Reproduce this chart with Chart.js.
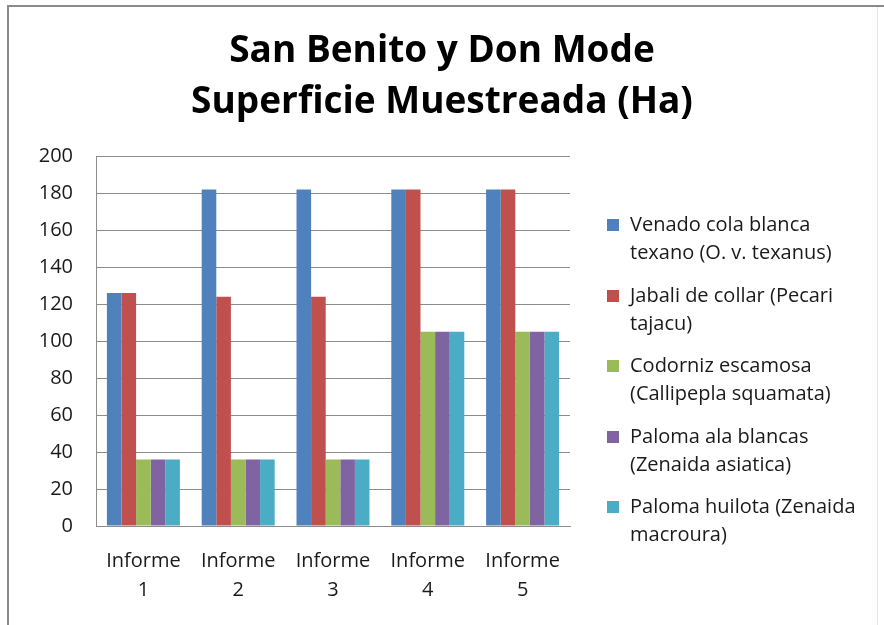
<!DOCTYPE html>
<html>
<head>
<meta charset="utf-8">
<script src="https://cdn.jsdelivr.net/npm/chart.js@4/dist/chart.umd.min.js"></script>
<style>
  html, body { margin: 0; padding: 0; background: #fff; }
  #wrap { position: relative; width: 884px; height: 625px; overflow: hidden; }
  #c { position: absolute; left: 0; top: 0; }
  #frameL { position: absolute; left: 7px; top: 5px; width: 2px; height: 625px; background: #8a8a8a; }
  #frameT { position: absolute; left: 7px; top: 5px; width: 877px; height: 2px; background: #8a8a8a; }
  #frameR { position: absolute; left: 877px; top: 7px; width: 1px; height: 618px; background: #e4e4e4; }
  #legend { position: absolute; left: 607px; top: 210px; width: 270px; font-family: "Open Sans", sans-serif; font-size: 20px; color: #1a1a1a; }
  .item { position: relative; padding-left: 23px; line-height: 28px; height: 56px; margin-bottom: 14.5px; }
  .item .sw { position: absolute; left: 0; top: 9px; width: 12px; height: 12px; }
  .item .tx { display: block; width: 238px; }
</style>
</head>
<body>
<div id="wrap">
  <canvas id="c" width="884" height="625"></canvas>
  <div id="frameL"></div><div id="frameT"></div><div id="frameR"></div>
  <div id="legend"></div>
</div>
<script>
const titleLines = ["San Benito y Don Mode", "Superficie Muestreada (Ha)"];
const categories = [["Informe", "1"], ["Informe", "2"], ["Informe", "3"], ["Informe", "4"], ["Informe", "5"]];
const seriesNames = [
  "Venado cola blanca texano (O. v. texanus)",
  "Jabali de collar (Pecari tajacu)",
  "Codorniz escamosa (Callipepla squamata)",
  "Paloma ala blancas (Zenaida asiatica)",
  "Paloma huilota (Zenaida macroura)"
];
const venado = [126, 182, 182, 182, 182];
const jabali = [126, 124, 124, 182, 182];
const codorniz = [36, 36, 36, 105, 105];
const palomaAla = [36, 36, 36, 105, 105];
const palomaHuilota = [36, 36, 36, 105, 105];
const seriesColors = ["#4F81BD", "#C0504D", "#9BBB59", "#8064A2", "#4BACC6"];
const yMin = 0, yMax = 200, yStep = 20;

const seriesValues = [venado, jabali, codorniz, palomaAla, palomaHuilota];

const datasets = seriesNames.map((name, i) => ({
  label: name,
  data: seriesValues[i],
  backgroundColor: seriesColors[i],
  borderWidth: 0,
  categoryPercentage: 0.77,
  barPercentage: 1.0
}));

const legend = document.getElementById('legend');
seriesNames.forEach((name, i) => {
  const d = document.createElement('div');
  d.className = 'item';
  d.innerHTML = '<span class="sw" style="background:' + seriesColors[i] + '"></span><span class="tx"></span>';
  d.querySelector('.tx').textContent = name;
  legend.appendChild(d);
});

const txt = '#1a1a1a';
new Chart(document.getElementById('c'), {
  type: 'bar',
  data: { labels: categories, datasets },
  options: {
    responsive: false,
    animation: false,
    layout: { padding: { left: 0, right: 0, top: 0, bottom: 0 } },
    plugins: {
      legend: { display: false },
      tooltip: { enabled: false },
      title: {
        display: true,
        text: titleLines,
        color: '#000',
        font: { family: 'Open Sans', size: 37, weight: 'bold', lineHeight: 1.38 },
        padding: { top: 26, bottom: 28 }
      }
    },
    scales: {
      x: {
        grid: { display: false, drawTicks: false },
        border: { display: true, color: '#8c8c8c', width: 1 },
        ticks: { color: txt, font: { family: 'Open Sans', size: 20, lineHeight: 1.45 }, padding: 21, maxRotation: 0 },
        afterFit(scale) { scale.height = 99; }
      },
      y: {
        min: yMin, max: yMax,
        grid: { color: '#8c8c8c', lineWidth: 1, drawTicks: false },
        border: { display: true, color: '#8c8c8c', width: 1 },
        ticks: { stepSize: yStep, color: txt, font: { family: 'Open Sans', size: 20 }, padding: 23 },
        afterFit(scale) { scale.width = 96; }
      },
      ySpace: {
        position: 'right',
        display: true,
        min: yMin, max: yMax,
        grid: { display: false, drawTicks: false },
        border: { display: false },
        ticks: { display: false },
        afterFit(scale) { scale.width = 314; }
      }
    }
  }
});
</script>
</body>
</html>
